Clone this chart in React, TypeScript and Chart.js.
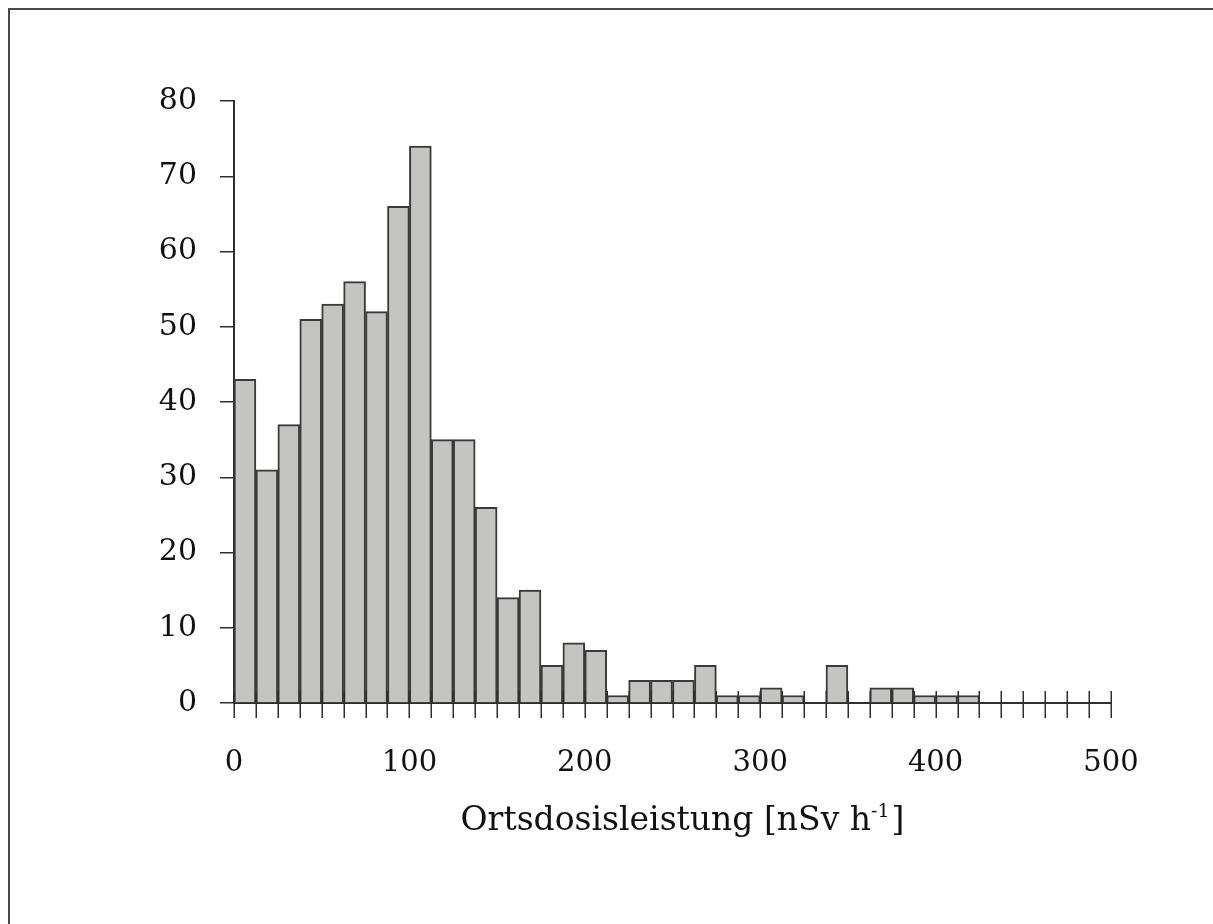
import { useEffect, useRef } from "react";
import { Chart, registerables } from "chart.js";

Chart.register(...registerables);

// Histogram bin edges of the ambient dose rate, nSv/h
const binEdges = [
  0, 12.5, 25, 37.5, 50, 62.5, 75, 87.5, 100, 112.5, 125, 137.5, 150, 162.5,
  175, 187.5, 200, 212.5, 225, 237.5, 250, 262.5, 275, 287.5, 300, 312.5, 325,
  337.5, 350, 362.5, 375, 387.5, 400, 412.5, 425, 437.5, 450, 462.5, 475, 487.5,
  500,
];

// Number of measurement sites per bin
const counts = [
  43, 31, 37, 51, 53, 56, 52, 66, 74, 35, 35, 26, 14, 15, 5, 8, 7, 1, 3, 3, 3,
  5, 1, 1, 2, 1, 0, 5, 0, 2, 2, 1, 1, 1, 0, 0, 0, 0, 0, 0,
];

const xTickValues = [0, 100, 200, 300, 400, 500];
const yTickValues = [0, 10, 20, 30, 40, 50, 60, 70, 80];

const xTitleMain = "Ortsdosisleistung [nSv h";
const xTitleSup = "-1";
const xTitleEnd = "]";

const FONT = "'DejaVu Serif', 'Liberation Serif', serif";
const INK = "#111111";
const AXIS = "#2e2e2e";

// Crossing tick marks at every bin edge plus the axis title with its superscript
const histogramDecor = {
  id: "histogramDecor",
  afterDraw(chart: any) {
    const { ctx, chartArea } = chart;
    const xScale = chart.scales.x;
    const base = chartArea.bottom;
    ctx.save();
    ctx.strokeStyle = AXIS;
    ctx.lineWidth = 1.5;
    binEdges.forEach((edge) => {
      const px = Math.round(xScale.getPixelForValue(edge)) + 0.25;
      ctx.beginPath();
      ctx.moveTo(px, base - 12);
      ctx.lineTo(px, base + 15);
      ctx.stroke();
    });

    const mainFont = `33px ${FONT}`;
    const supFont = `19px ${FONT}`;
    ctx.font = mainFont;
    const wMain = ctx.measureText(xTitleMain).width;
    const wEnd = ctx.measureText(xTitleEnd).width;
    ctx.font = supFont;
    const wSup = ctx.measureText(xTitleSup).width;
    const total = wMain + wSup + 2 + wEnd;
    const center = (chartArea.left + chartArea.right) / 2 + 10;
    const baseline = base + 127;
    let x = center - total / 2;
    ctx.fillStyle = INK;
    ctx.textAlign = "left";
    ctx.textBaseline = "alphabetic";
    ctx.font = mainFont;
    ctx.fillText(xTitleMain, x, baseline);
    x += wMain;
    ctx.font = supFont;
    ctx.fillText(xTitleSup, x, baseline - 13);
    x += wSup + 2;
    ctx.font = mainFont;
    ctx.fillText(xTitleEnd, x, baseline);
    ctx.restore();
  },
};

export default function App() {
  const canvasRef = useRef<HTMLCanvasElement | null>(null);

  useEffect(() => {
    const canvas = canvasRef.current;
    if (!canvas) return;

    const points = counts.map((c, i) => ({
      x: (binEdges[i] + binEdges[i + 1]) / 2,
      y: c,
    }));

    const chart = new Chart(canvas, {
      type: "bar",
      data: {
        datasets: [
          {
            data: points as any,
            backgroundColor: "#c4c4c2",
            borderColor: "#3a3a3a",
            borderWidth: 2,
            borderSkipped: "start",
            barPercentage: 1,
            categoryPercentage: 1,
          },
        ],
      },
      options: {
        animation: false,
        responsive: false,
        events: [],
        layout: { padding: { top: 91, right: 102, bottom: 0, left: 0 } },
        plugins: {
          legend: { display: false },
          tooltip: { enabled: false },
        },
        scales: {
          x: {
            type: "linear",
            min: 0,
            max: 500,
            offset: false,
            z: 1,
            afterBuildTicks: (scale: any) => {
              scale.ticks = xTickValues.map((v) => ({ value: v }));
            },
            afterFit: (scale: any) => {
              scale.height = 221;
            },
            grid: { display: false, drawTicks: false, tickLength: 0, offset: false },
            border: { display: true, color: AXIS, width: 2 },
            ticks: {
              autoSkip: false,
              maxRotation: 0,
              padding: 43,
              color: INK,
              font: { family: FONT, size: 29 },
              callback: (v: any) => String(v),
            },
          },
          y: {
            type: "linear",
            min: 0,
            max: 80,
            z: 1,
            afterBuildTicks: (scale: any) => {
              scale.ticks = yTickValues.map((v) => ({ value: v }));
            },
            afterFit: (scale: any) => {
              scale.width = 224;
            },
            grid: {
              display: true,
              drawOnChartArea: false,
              drawTicks: true,
              tickLength: 14,
              color: AXIS,
              lineWidth: 1.5,
            },
            border: { display: true, color: AXIS, width: 2 },
            ticks: {
              padding: 23,
              color: INK,
              font: { family: FONT, size: 30 },
              callback: (v: any) => String(v),
            },
          },
        },
      },
      plugins: [histogramDecor],
    });

    return () => chart.destroy();
  }, []);

  return (
    <div
      style={{
        position: "fixed",
        left: 8,
        top: 8,
        width: 1205,
        height: 916,
        boxSizing: "border-box",
        borderTop: "2px solid #4a4a4a",
        borderLeft: "2px solid #4a4a4a",
        background: "#ffffff",
        overflow: "hidden",
      }}
    >
      <canvas ref={canvasRef} width={1203} height={914} style={{ display: "block" }} />
    </div>
  );
}
